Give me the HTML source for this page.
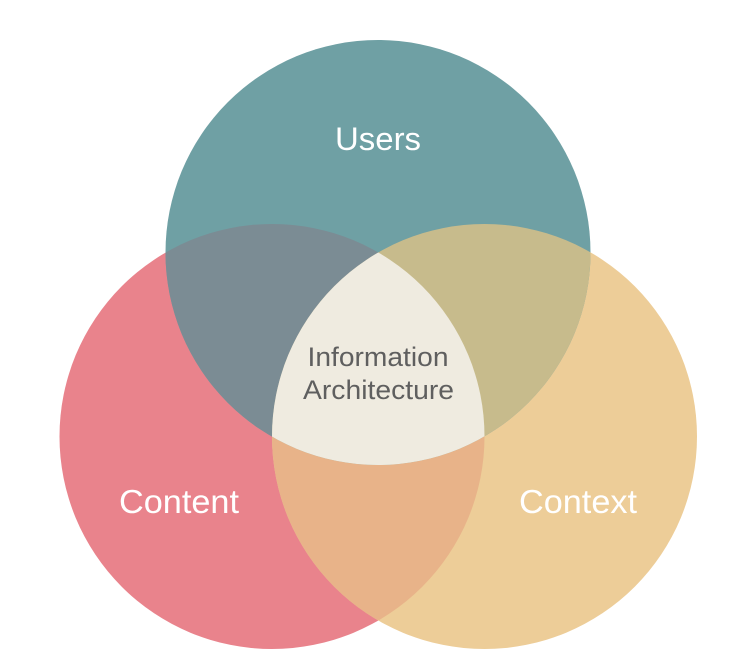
<!DOCTYPE html>
<html>
<head>
<meta charset="utf-8">
<style>
html,body{margin:0;padding:0;background:#fff;}
svg{display:block;}
text{font-family:"Liberation Sans",sans-serif;text-anchor:start;}
</style>
</head>
<body>
<svg width="740" height="667" viewBox="0 0 740 667" xmlns="http://www.w3.org/2000/svg">
  <defs>
    <clipPath id="cT"><circle cx="378" cy="252.5" r="212.5"/></clipPath>
    <clipPath id="cL"><circle cx="272" cy="436.5" r="212.5"/></clipPath>
    <clipPath id="cR"><circle cx="484.5" cy="436.5" r="212.5"/></clipPath>
  </defs>
  <rect width="740" height="667" fill="#ffffff"/>
  <circle cx="272" cy="436.5" r="212.5" fill="#e9838c"/>
  <circle cx="484.5" cy="436.5" r="212.5" fill="#edcd98"/>
  <circle cx="378" cy="252.5" r="212.5" fill="#6fa0a4"/>
  <g clip-path="url(#cL)"><circle cx="484.5" cy="436.5" r="212.5" fill="#e8b389"/></g>
  <g clip-path="url(#cT)"><circle cx="272" cy="436.5" r="212.5" fill="#7b8c94"/></g>
  <g clip-path="url(#cT)"><circle cx="484.5" cy="436.5" r="212.5" fill="#c7bb8c"/></g>
  <g clip-path="url(#cT)"><g clip-path="url(#cL)"><circle cx="484.5" cy="436.5" r="212.5" fill="#efebe0"/></g></g>
  <text x="335" y="150" font-size="32" fill="#ffffff" textLength="86" lengthAdjust="spacingAndGlyphs">Users</text>
  <text x="119" y="513" font-size="33" fill="#ffffff" textLength="120" lengthAdjust="spacingAndGlyphs">Content</text>
  <text x="519" y="513" font-size="33" fill="#ffffff" textLength="118" lengthAdjust="spacingAndGlyphs">Context</text>
  <text x="307.500" y="366" font-size="27" fill="#5f5f5f" textLength="141" lengthAdjust="spacingAndGlyphs">Information</text>
  <text x="303" y="399" font-size="27" fill="#5f5f5f" textLength="151" lengthAdjust="spacingAndGlyphs">Architecture</text>
</svg>
</body>
</html>
